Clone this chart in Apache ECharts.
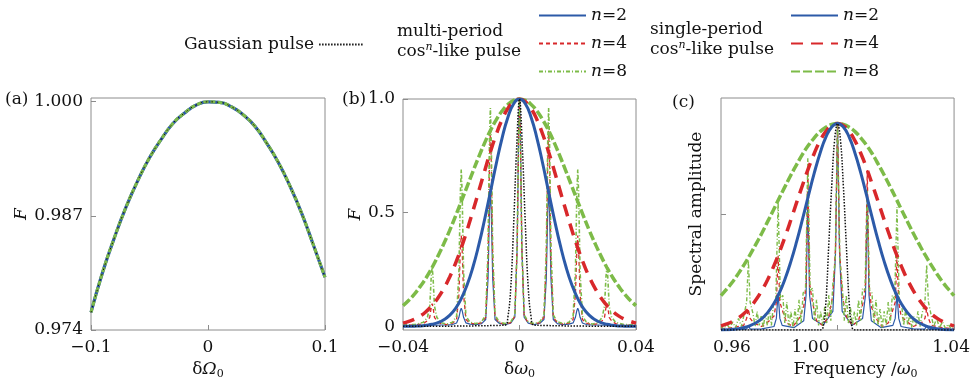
<!DOCTYPE html>
<html>
<head>
<meta charset="utf-8">
<script src="https://cdn.jsdelivr.net/npm/echarts@6/dist/echarts.min.js"></script>
<style>
html,body{margin:0;padding:0;background:#fff;}
#chart{width:973px;height:386px;}
</style>
</head>
<body>
<div id="chart"></div>
<script>
// (a) fidelity F against dOmega0, all pulses overlap
var aX = [-0.1,-0.09,-0.08,-0.07,-0.06,-0.05,-0.04,-0.03,-0.02,-0.01,0,0.01,0.02,0.03,0.04,0.05,0.06,0.07,0.08,0.09,0.1];
var aF = [0.976,0.9806,0.9845,0.988,0.991,0.9936,0.9957,0.9975,0.9987,0.9996,0.99996,0.9999,0.9994,0.9985,0.9972,0.9953,0.9931,0.9904,0.9873,0.9837,0.980];

// (b) fidelity F against domega0
// multi-period pulses (thin, spiky)
var bX = [-0.04,-0.036,-0.033,-0.0316,-0.0308,-0.0303,-0.03,-0.0297,-0.0292,-0.0284,-0.027,-0.025,-0.023,-0.0216,-0.0208,-0.0203,-0.02,-0.0197,-0.0192,-0.0184,-0.017,-0.015,-0.013,-0.0116,-0.0108,-0.0103,-0.01,-0.0097,-0.0092,-0.0084,-0.007,-0.005,-0.003,-0.0016,-0.0008,-0.0003,0,0.0003,0.0008,0.0016,0.003,0.005,0.007,0.0084,0.0092,0.0097,0.01,0.0103,0.0108,0.0116,0.013,0.015,0.017,0.0184,0.0192,0.0197,0.02,0.0203,0.0208,0.0216,0.023,0.025,0.027,0.0284,0.0292,0.0297,0.03,0.0303,0.0308,0.0316,0.033,0.036,0.04];
var bMulti8 = [0.006,0.008,0.018, 0.04,0.09,0.22,0.26,0.22,0.09,0.04, 0.016,0.01,0.018, 0.045,0.24,0.59,0.69,0.59,0.24,0.045, 0.018,0.012,0.02, 0.05,0.34,0.82,0.96,0.82,0.34,0.05, 0.02,0.012,0.02, 0.05,0.35,0.85,1.0,0.85,0.35,0.05, 0.02,0.012,0.02, 0.05,0.34,0.82,0.96,0.82,0.34,0.05, 0.02,0.012,0.018, 0.045,0.24,0.59,0.69,0.59,0.24,0.045, 0.018,0.01,0.016, 0.04,0.09,0.22,0.26,0.22,0.09,0.04, 0.018,0.008,0.006];
var bMulti4 = [0.004,0.006,0.012, 0.025,0.04,0.085,0.10,0.085,0.04,0.025, 0.012,0.008,0.014, 0.03,0.14,0.34,0.40,0.34,0.14,0.03, 0.014,0.01,0.016, 0.04,0.30,0.73,0.86,0.73,0.30,0.04, 0.016,0.01,0.016, 0.045,0.35,0.85,1.0,0.85,0.35,0.045, 0.016,0.01,0.016, 0.04,0.30,0.73,0.86,0.73,0.30,0.04, 0.016,0.01,0.014, 0.03,0.14,0.34,0.40,0.34,0.14,0.03, 0.014,0.008,0.012, 0.025,0.04,0.085,0.10,0.085,0.04,0.025, 0.012,0.006,0.004];
var bMulti2 = [0.002,0.003,0.004, 0.005,0.006,0.007,0.008,0.007,0.006,0.005, 0.006,0.006,0.008, 0.015,0.04,0.07,0.08,0.07,0.04,0.015, 0.01,0.008,0.012, 0.03,0.21,0.51,0.60,0.51,0.21,0.03, 0.014,0.008,0.014, 0.04,0.35,0.85,1.0,0.85,0.35,0.04, 0.014,0.008,0.014, 0.03,0.21,0.51,0.60,0.51,0.21,0.03, 0.012,0.008,0.01, 0.015,0.04,0.07,0.08,0.07,0.04,0.015, 0.008,0.006,0.006, 0.005,0.006,0.007,0.008,0.007,0.006,0.005, 0.004,0.003,0.002];
// single-period pulses (thick)
var sX = [-0.04,-0.038,-0.036,-0.034,-0.032,-0.03,-0.028,-0.026,-0.024,-0.022,-0.02,-0.018,-0.016,-0.014,-0.012,-0.01,-0.008,-0.006,-0.004,-0.002,0,0.002,0.004,0.006,0.008,0.01,0.012,0.014,0.016,0.018,0.02,0.022,0.024,0.026,0.028,0.03,0.032,0.034,0.036,0.038,0.04];
var bSingle2 = [0.0002,0.0005,0.001,0.002,0.005,0.009,0.016,0.029,0.048,0.078,0.122,0.182,0.26,0.357,0.469,0.591,0.714,0.827,0.919,0.979,1,0.979,0.919,0.827,0.714,0.591,0.469,0.357,0.26,0.182,0.122,0.078,0.048,0.029,0.016,0.009,0.005,0.002,0.001,0.0005,0.0002];
var bSingle4 = [0.014,0.022,0.032,0.046,0.066,0.092,0.125,0.166,0.216,0.276,0.345,0.423,0.507,0.594,0.682,0.767,0.844,0.909,0.958,0.989,1,0.989,0.958,0.909,0.844,0.767,0.682,0.594,0.507,0.423,0.345,0.276,0.216,0.166,0.125,0.092,0.066,0.046,0.032,0.022,0.014];
var bSingle8 = [0.091,0.115,0.143,0.177,0.215,0.259,0.309,0.363,0.421,0.484,0.549,0.615,0.681,0.745,0.806,0.861,0.908,0.947,0.976,0.994,1,0.994,0.976,0.947,0.908,0.861,0.806,0.745,0.681,0.615,0.549,0.484,0.421,0.363,0.309,0.259,0.215,0.177,0.143,0.115,0.091];
var bGauss = [[-0.04,0],[-0.005,0.005],[-0.004,0.04],[-0.003,0.17],[-0.002,0.45],[-0.001,0.78],[0,1],[0.001,0.78],[0.002,0.45],[0.003,0.17],[0.004,0.04],[0.005,0.005],[0.04,0]];

// (c) spectral amplitude against frequency / omega0
var cX = [0.96,0.962,0.964,0.966,0.968,0.97,0.972,0.974,0.976,0.978,0.98,0.982,0.984,0.986,0.988,0.99,0.992,0.994,0.996,0.998,1,1.002,1.004,1.006,1.008,1.01,1.012,1.014,1.016,1.018,1.02,1.022,1.024,1.026,1.028,1.03,1.032,1.034,1.036,1.038,1.04];
var cSingle2 = [0.0005,0.001,0.003,0.006,0.011,0.019,0.031,0.049,0.075,0.111,0.159,0.221,0.296,0.383,0.479,0.579,0.676,0.762,0.831,0.875,0.89,0.875,0.831,0.762,0.676,0.579,0.479,0.383,0.296,0.221,0.159,0.111,0.075,0.049,0.031,0.019,0.011,0.006,0.003,0.001,0.0005];
var cSingle4 = [0.018,0.026,0.037,0.052,0.072,0.098,0.13,0.17,0.217,0.272,0.334,0.402,0.475,0.551,0.625,0.697,0.761,0.815,0.856,0.881,0.89,0.881,0.856,0.815,0.761,0.697,0.625,0.551,0.475,0.402,0.334,0.272,0.217,0.17,0.13,0.098,0.072,0.052,0.037,0.026,0.018];
var cSingle8 = [0.148,0.177,0.208,0.244,0.283,0.325,0.37,0.417,0.467,0.517,0.569,0.619,0.668,0.714,0.758,0.796,0.828,0.855,0.874,0.886,0.89,0.886,0.874,0.855,0.828,0.796,0.758,0.714,0.668,0.619,0.569,0.517,0.467,0.417,0.37,0.325,0.283,0.244,0.208,0.177,0.148];
var cMulti8 = [[0.96,0.015],[0.961,0.004],[0.962,0.025],[0.963,0.008],[0.964,0.035],[0.965,0.01],[0.966,0.05],[0.967,0.015],[0.9678,0.06],
  [0.9688,0.12],[0.9694,0.30],[0.97,0.12],
  [0.971,0.07],[0.9717,0.015],[0.9724,0.08],[0.9731,0.02],[0.9738,0.06],[0.9745,0.01],[0.9752,0.07],[0.9759,0.02],[0.9766,0.09],[0.9773,0.02],[0.978,0.11],
  [0.9788,0.13],[0.9796,0.55],[0.9804,0.13],
  [0.9812,0.15],[0.9819,0.03],[0.9826,0.12],[0.9833,0.02],[0.984,0.08],[0.9847,0.01],[0.9854,0.09],[0.9861,0.02],[0.9868,0.13],[0.9875,0.03],[0.9882,0.16],
  [0.989,0.17],[0.9898,0.74],[0.9906,0.17],
  [0.9914,0.18],[0.9921,0.04],[0.9928,0.13],[0.9935,0.02],[0.9942,0.08],[0.9949,0.02],[0.9956,0.1],[0.9963,0.03],[0.997,0.15],[0.9977,0.04],[0.9984,0.2],
  [0.9992,0.3],[1,0.89],[1.0008,0.3],
  [1.0016,0.2],[1.0023,0.04],[1.003,0.15],[1.0037,0.03],[1.0044,0.1],[1.0051,0.02],[1.0058,0.08],[1.0065,0.02],[1.0072,0.13],[1.0079,0.04],[1.0086,0.18],
  [1.0094,0.17],[1.0102,0.60],[1.011,0.17],
  [1.0118,0.16],[1.0125,0.03],[1.0132,0.13],[1.0139,0.02],[1.0146,0.09],[1.0153,0.01],[1.016,0.08],[1.0167,0.02],[1.0174,0.12],[1.0181,0.03],[1.0188,0.15],
  [1.0196,0.13],[1.0204,0.53],[1.0212,0.13],
  [1.022,0.11],[1.0227,0.02],[1.0234,0.09],[1.0241,0.02],[1.0248,0.07],[1.0255,0.01],[1.0262,0.06],[1.0269,0.02],[1.0276,0.08],[1.0283,0.015],[1.029,0.07],
  [1.03,0.12],[1.0306,0.28],[1.0312,0.12],
  [1.0322,0.06],[1.033,0.015],[1.034,0.05],[1.035,0.01],[1.036,0.035],[1.037,0.008],[1.038,0.025],[1.039,0.004],[1.04,0.015]];
var cMulti4 = [[0.96,0.005],[0.964,0.01],[0.9678,0.02],[0.9688,0.05],[0.9694,0.09],[0.97,0.05],[0.9712,0.03],[0.974,0.015],[0.9766,0.04],[0.9782,0.06],[0.979,0.12],[0.9796,0.32],[0.9802,0.12],[0.9812,0.08],[0.9826,0.03],[0.9847,0.015],[0.9868,0.05],[0.9884,0.1],[0.9892,0.2],[0.9898,0.69],[0.9904,0.2],[0.9914,0.12],[0.9928,0.04],[0.9949,0.02],[0.997,0.06],[0.9984,0.15],[0.9993,0.35],[1,0.89],[1.0007,0.35],[1.0016,0.15],[1.003,0.06],[1.0051,0.02],[1.0072,0.04],[1.0088,0.12],[1.0096,0.2],[1.0102,0.69],[1.0108,0.2],[1.0116,0.1],[1.0132,0.05],[1.0153,0.015],[1.0174,0.03],[1.0188,0.08],[1.0198,0.12],[1.0204,0.32],[1.021,0.12],[1.0218,0.06],[1.0234,0.04],[1.026,0.015],[1.0288,0.03],[1.03,0.05],[1.0306,0.09],[1.0312,0.05],[1.0322,0.02],[1.036,0.01],[1.04,0.005]];
var cMulti2 = [[0.96,0.001],[0.966,0.002],[0.9688,0.004],[0.9694,0.02],[0.97,0.004],[0.974,0.005],[0.9782,0.015],[0.979,0.05],[0.9796,0.16],[0.9802,0.05],[0.981,0.02],[0.985,0.01],[0.9884,0.04],[0.9892,0.15],[0.9898,0.58],[0.9904,0.15],[0.9914,0.05],[0.995,0.02],[0.9984,0.08],[0.9993,0.33],[1,0.89],[1.0007,0.33],[1.0016,0.08],[1.005,0.02],[1.0086,0.05],[1.0096,0.15],[1.0102,0.58],[1.0108,0.15],[1.0116,0.04],[1.015,0.01],[1.019,0.02],[1.0198,0.05],[1.0204,0.16],[1.021,0.05],[1.0218,0.015],[1.026,0.005],[1.03,0.004],[1.0306,0.02],[1.0312,0.004],[1.034,0.002],[1.04,0.001]];
var cGauss = [[0.96,0],[0.994,0],[0.995,0.01],[0.996,0.12],[0.997,0.37],[0.998,0.62],[0.999,0.82],[1,0.89],[1.001,0.82],[1.002,0.62],[1.003,0.37],[1.004,0.12],[1.005,0.01],[1.006,0],[1.04,0]];

var FONT = 'DejaVu Serif';
var FS = 17;
var GRAY = '#8c8c8c';
var INK = '#111';
var BLUE = '#2c5aa8', RED = '#d8282b', GREEN = '#7dbb48';

function pairs(xs, ys){
	return xs.map(function(x, i){ return [x, ys[i]]; });
}

function line(name, gi, data, color, width, type, smooth){
	return {
		name: name, type: 'line', xAxisIndex: gi, yAxisIndex: gi,
		data: data, symbol: 'none', smooth: smooth || false,
		lineStyle: {color: color, width: width, type: type},
		itemStyle: {color: color},
		animation: false
	};
}

function minus(v){
	return v < 0 ? '\u2212' + Math.abs(v) : String(v);
}

var txt = {fontFamily: FONT, fontSize: FS, color: INK};
var nameRich = {
	n: {fontFamily: FONT, fontSize: FS, color: INK},
	i: {fontFamily: FONT, fontSize: FS, color: INK, fontStyle: 'italic'},
	s: {fontFamily: FONT, fontSize: 11, color: INK, verticalAlign: 'bottom', padding: [9, 0, 0, 0]}
};
var tick = {inside: true, length: 5, lineStyle: {color: GRAY}};
var noLine = {show: false, onZero: false};

function xAxisOf(gi, min, max, step, name, labelFmt){
	return {
		gridIndex: gi, type: 'value', min: min, max: max, interval: step,
		axisLine: noLine, splitLine: {show: false}, axisTick: tick,
		axisLabel: Object.assign({formatter: labelFmt || minus, margin: 9, showMinLabel: true, showMaxLabel: true}, txt),
		name: name, nameLocation: 'middle', nameGap: 30,
		nameTextStyle: Object.assign({rich: nameRich}, txt)
	};
}

function nLabel(name){
	return '{i|n}{t|=' + name.slice(-1) + '}';
}
var legendText = Object.assign({lineHeight: 14, rich: {
	i: {fontFamily: FONT, fontSize: FS, color: INK, fontStyle: 'italic', lineHeight: 14},
	t: {fontFamily: FONT, fontSize: FS, color: INK, lineHeight: 14}
}}, txt);

var series = [
	// (b)
	line('multi n=2', 1, pairs(bX, bMulti2), BLUE, 1.2, 'solid'),
	line('multi n=4', 1, pairs(bX, bMulti4), RED, 1.3, [4, 3]),
	line('multi n=8', 1, pairs(bX, bMulti8), GREEN, 1.6, [4, 2, 1, 2]),
	line('single n=8', 1, pairs(sX, bSingle8), GREEN, 3.5, [9, 3], true),
	line('single n=4', 1, pairs(sX, bSingle4), RED, 3.5, [12, 8], true),
	line('single n=2', 1, pairs(sX, bSingle2), BLUE, 3, 'solid', true),
	line('Gaussian pulse', 1, bGauss, INK, 1.5, [1.5, 1.5], 0.4),
	// (c)
	line('multi n=2', 2, cMulti2, BLUE, 1.2, 'solid'),
	line('multi n=4', 2, cMulti4, RED, 1.3, [4, 3]),
	line('multi n=8', 2, cMulti8, GREEN, 1.4, [4, 2, 1, 2]),
	line('single n=8', 2, pairs(cX, cSingle8), GREEN, 3.5, [9, 3], true),
	line('single n=4', 2, pairs(cX, cSingle4), RED, 3.5, [12, 8], true),
	line('single n=2', 2, pairs(cX, cSingle2), BLUE, 3, 'solid', true),
	line('Gaussian pulse', 2, cGauss, INK, 1.5, [1.5, 1.5], 0.4),
	// (a)
	line('multi n=2', 0, pairs(aX, aF), BLUE, 3.2, 'solid', true),
	line('multi n=8', 0, pairs(aX, aF), GREEN, 3, [5, 2], true),
	line('Gaussian pulse', 0, pairs(aX, aF), INK, 1, [1.5, 4], true)
];

var cLabel = {
	l: {fontFamily: FONT, fontSize: FS, color: INK, padding: [0, 0, 0, 22]},
	m: {fontFamily: FONT, fontSize: FS, color: INK, padding: [0, 54, 0, 0]},
	r: {fontFamily: FONT, fontSize: FS, color: INK, padding: [0, 6, 0, 0]}
};
var cX0 = xAxisOf(2, 0.96, 1.04, 0.04, '{n|Frequency /}{i|\u03c9}{s|0}', function(v){
	if (v < 0.98) return '{l|0.96}';
	if (v < 1.02) return '{m|1.00}';
	return '{r|1.04}';
});
cX0.axisLabel.rich = cLabel;
cX0.nameTextStyle.padding = [0, 0, 0, 36];

var legendBase = {padding: 0, itemWidth: 47, itemHeight: 14, selectedMode: false,
	itemStyle: {opacity: 0}};

var option = {
	backgroundColor: '#fff',
	animation: false,
	grid: [
		{left: 91, top: 98, width: 234, height: 232, show: true, borderColor: GRAY, borderWidth: 1},
		{left: 403, top: 99, width: 233, height: 231, show: true, borderColor: GRAY, borderWidth: 1},
		{left: 721, top: 98, width: 234, height: 232, show: true, borderColor: GRAY, borderWidth: 1}
	],
	xAxis: [
		xAxisOf(0, -0.1, 0.1, 0.1, '{n|\u03b4}{i|\u03a9}{s|0}'),
		xAxisOf(1, -0.04, 0.04, 0.04, '{n|\u03b4}{i|\u03c9}{s|0}'),
		cX0
	],
	yAxis: [
		{gridIndex: 0, type: 'value', min: 0.974, max: 1.0004,
			axisLine: noLine, splitLine: {show: false},
			axisTick: Object.assign({customValues: [0.974, 0.987, 1.0]}, tick),
			axisLabel: Object.assign({customValues: [0.974, 0.987, 1.0], formatter: function(v){ return v.toFixed(3); }}, txt),
			name: 'F', nameLocation: 'middle', nameGap: 57,
			nameTextStyle: Object.assign({fontStyle: 'italic'}, txt)},
		{gridIndex: 1, type: 'value', min: -0.016, max: 1.0,
			axisLine: noLine, splitLine: {show: false},
			axisTick: Object.assign({customValues: [0, 0.5, 1.0]}, tick),
			axisLabel: Object.assign({customValues: [0, 0.5, 1.0], formatter: function(v){ return v === 0 ? '0' : v.toFixed(1); }}, txt),
			name: 'F', nameLocation: 'middle', nameGap: 38,
			nameTextStyle: Object.assign({fontStyle: 'italic'}, txt)},
		{gridIndex: 2, type: 'value', min: 0, max: 1,
			axisLine: noLine, splitLine: {show: false},
			axisTick: Object.assign({customValues: [0.5]}, tick),
			axisLabel: {show: false},
			name: 'Spectral amplitude', nameLocation: 'middle', nameGap: 16,
			nameTextStyle: txt}
	],
	legend: [
		Object.assign({}, legendBase, {data: ['Gaussian pulse'], left: 184, top: 36, align: 'right',
			itemWidth: 44, textStyle: txt}),
		Object.assign({}, legendBase, {data: ['multi n=2', 'multi n=4', 'multi n=8'], orient: 'vertical',
			left: 538, top: 7, itemGap: 11, formatter: nLabel, textStyle: legendText}),
		Object.assign({}, legendBase, {data: ['single n=2', 'single n=4', 'single n=8'], orient: 'vertical',
			left: 790, top: 7, itemGap: 11, formatter: nLabel, textStyle: legendText})
	],
	graphic: [
		{type: 'text', left: 5, top: 91, style: {text: '(a)', font: FS + 'px "DejaVu Serif"', fill: INK}},
		{type: 'text', left: 342, top: 91, style: {text: '(b)', font: FS + 'px "DejaVu Serif"', fill: INK}},
		{type: 'text', left: 672, top: 94, style: {text: '(c)', font: FS + 'px "DejaVu Serif"', fill: INK}},
		{type: 'text', left: 397, top: 22, style: {text: 'multi-period\ncos{sup|n}-like pulse',
			font: FS + 'px "DejaVu Serif"', fill: INK, lineHeight: 20,
			rich: {sup: {fontFamily: FONT, fontSize: 11, fontStyle: 'italic', fill: INK, verticalAlign: 'top', lineHeight: 12}}}},
		{type: 'text', left: 650, top: 20, style: {text: 'single-period\ncos{sup|n}-like pulse',
			font: FS + 'px "DejaVu Serif"', fill: INK, lineHeight: 20,
			rich: {sup: {fontFamily: FONT, fontSize: 11, fontStyle: 'italic', fill: INK, verticalAlign: 'top', lineHeight: 12}}}}
	],
	series: series
};

var myChart = echarts.init(document.getElementById('chart'));
myChart.setOption(option);
</script>
</body>
</html>
